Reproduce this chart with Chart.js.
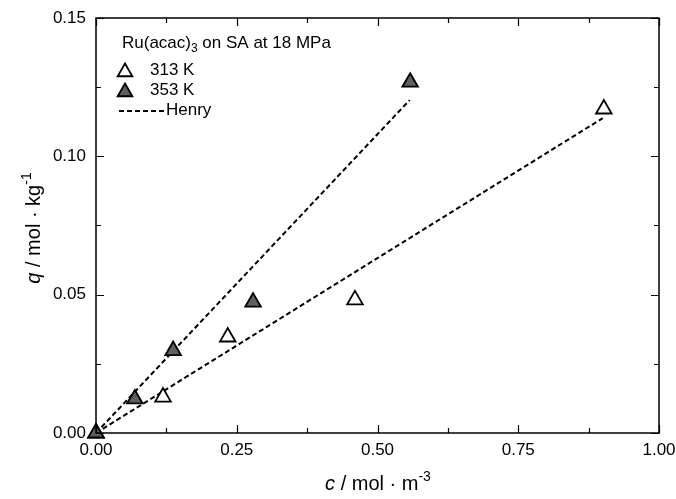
<!DOCTYPE html>
<html>
<head>
<meta charset="utf-8">
<script src="https://cdn.jsdelivr.net/npm/chart.js@4"></script>
<style>
  html, body { margin: 0; padding: 0; background: #fff; }
  #wrap { width: 676px; height: 499px; }
</style>
</head>
<body>
<div id="wrap"><canvas id="isotherm" width="676" height="499"></canvas></div>
<script>
// ── Data ──
const c313 = [0, 0.119, 0.234, 0.46, 0.902];
const q313 = [0, 0.013, 0.0347, 0.0481, 0.1171];
const c353 = [0, 0.069, 0.137, 0.279, 0.558];
const q353 = [0, 0.0123, 0.0298, 0.0473, 0.1268];
// Henry fits: start and end points
const henry313C = [0, 0.90];
const henry313Q = [0, 0.1138];
const henry353C = [0, 0.557];
const henry353Q = [0, 0.1203];

const xTicks = [0, 0.25, 0.5, 0.75, 1.0];
const yTicks = [0, 0.05, 0.10, 0.15];

const FONT = '"Liberation Sans", Arial, sans-serif';
const pts = (xs, ys) => xs.map((x, i) => ({ x: x, y: ys[i] }));

// ── Frame, inner ticks, axis titles and legend ──
const framePlugin = {
    id: 'frame',
    afterDraw(chart) {
        const ctx = chart.ctx;
        const a = chart.chartArea;
        const xs = chart.scales.x, ys = chart.scales.y;
        ctx.save();
        ctx.strokeStyle = '#000';
        ctx.lineWidth = 1.5;
        ctx.strokeRect(a.left, a.top, a.right - a.left, a.bottom - a.top);

        ctx.lineWidth = 1.2;
        ctx.beginPath();
        for (let i = 0; i <= 8; i++) {
            const v = i * 0.125;
            const len = i % 2 === 0 ? 8 : 5;
            const px = Math.round(xs.getPixelForValue(v)) + 0.5;
            ctx.moveTo(px, a.bottom); ctx.lineTo(px, a.bottom - len);
            ctx.moveTo(px, a.top); ctx.lineTo(px, a.top + len);
        }
        for (let i = 0; i <= 6; i++) {
            const v = i * 0.025;
            const len = i % 2 === 0 ? 8 : 5;
            const py = Math.round(ys.getPixelForValue(v)) + 0.5;
            ctx.moveTo(a.left, py); ctx.lineTo(a.left + len, py);
            ctx.moveTo(a.right, py); ctx.lineTo(a.right - len, py);
        }
        ctx.stroke();

        // axis titles
        ctx.fillStyle = '#000';
        ctx.textBaseline = 'alphabetic';
        const drawRuns = (runs, x, y, align) => {
            let w = 0;
            runs.forEach(r => { ctx.font = r.font; w += ctx.measureText(r.t).width; });
            let cx = align === 'center' ? x - w / 2 : x;
            ctx.textAlign = 'left';
            runs.forEach(r => {
                ctx.font = r.font;
                ctx.fillText(r.t, cx, y + (r.dy || 0));
                cx += ctx.measureText(r.t).width;
            });
        };
        drawRuns([
            { t: 'c', font: 'italic 20px ' + FONT },
            { t: ' / mol \u00b7 m', font: '20px ' + FONT },
            { t: '-3', font: '14px ' + FONT, dy: -9 }
        ], 378, 490, 'center');

        ctx.save();
        ctx.translate(40, 228);
        ctx.rotate(-Math.PI / 2);
        drawRuns([
            { t: 'q', font: 'italic 20px ' + FONT },
            { t: ' / mol \u00b7 kg', font: '20px ' + FONT },
            { t: '-1', font: '14px ' + FONT, dy: -9 }
        ], 0, 0, 'center');
        ctx.restore();

        // legend
        drawRuns([
            { t: 'Ru(acac)', font: '17px ' + FONT },
            { t: '3', font: '12px ' + FONT, dy: 4 },
            { t: ' on SA at 18 MPa', font: '17px ' + FONT }
        ], 122, 48, 'left');

        const tri = (x, y, r, fill) => {
            ctx.beginPath();
            for (let k = 0; k < 3; k++) {
                const ang = k * 2 * Math.PI / 3;
                const px = x + Math.sin(ang) * r, py = y - Math.cos(ang) * r;
                if (k === 0) ctx.moveTo(px, py); else ctx.lineTo(px, py);
            }
            ctx.closePath();
            ctx.fillStyle = fill;
            ctx.fill();
            ctx.lineWidth = 1.8;
            ctx.strokeStyle = '#000';
            ctx.stroke();
        };
        tri(125, 72, 8.5, '#fff');
        tri(125, 92, 8.5, '#5f5f5f');
        ctx.fillStyle = '#000';
        ctx.font = '17px ' + FONT;
        ctx.textBaseline = 'middle';
        ctx.fillText('313 K', 150, 70);
        ctx.fillText('353 K', 150, 90);
        ctx.fillText('Henry', 166, 110);
        ctx.setLineDash([5, 3]);
        ctx.lineWidth = 1.8;
        ctx.beginPath();
        ctx.moveTo(119, 111); ctx.lineTo(164, 111);
        ctx.stroke();
        ctx.restore();
    }
};

const ctx = document.getElementById('isotherm').getContext('2d');
new Chart(ctx, {
    type: 'scatter',
    data: {
        datasets: [
            {
                label: '313 K',
                data: pts(c313, q313),
                pointStyle: 'triangle',
                pointRadius: 9,
                pointBackgroundColor: '#fff',
                pointBorderColor: '#000',
                pointBorderWidth: 1.8,
                showLine: false,
                order: 1
            },
            {
                label: '353 K',
                data: pts(c353, q353),
                pointStyle: 'triangle',
                pointRadius: 9,
                pointBackgroundColor: '#5f5f5f',
                pointBorderColor: '#000',
                pointBorderWidth: 1.8,
                showLine: false,
                order: 0
            },
            {
                label: 'Henry 313 K',
                data: pts(henry313C, henry313Q),
                showLine: true,
                borderColor: '#000',
                borderWidth: 2,
                borderDash: [5, 3],
                pointRadius: 0,
                fill: false,
                order: 2
            },
            {
                label: 'Henry 353 K',
                data: pts(henry353C, henry353Q),
                showLine: true,
                borderColor: '#000',
                borderWidth: 2,
                borderDash: [5, 3],
                pointRadius: 0,
                fill: false,
                order: 2
            }
        ]
    },
    options: {
        responsive: false,
        animation: false,
        clip: false,
        layout: { padding: { left: 0, top: 18, right: 17, bottom: 0 } },
        plugins: {
            legend: { display: false },
            tooltip: { enabled: false }
        },
        scales: {
            x: {
                type: 'linear',
                min: 0, max: 1,
                afterBuildTicks: (s) => { s.ticks = xTicks.map(v => ({ value: v })); },
                afterFit: (s) => { s.height = 66; s.paddingRight = 0; s.paddingLeft = 0; },
                grid: { display: false, drawTicks: false },
                border: { display: false },
                ticks: {
                    padding: 7,
                    color: '#000',
                    font: { family: FONT, size: 17 },
                    callback: (v) => Number(v).toFixed(2)
                }
            },
            y: {
                type: 'linear',
                min: 0, max: 0.15,
                afterBuildTicks: (s) => { s.ticks = yTicks.map(v => ({ value: v })); },
                afterFit: (s) => { s.width = 96; s.paddingTop = 0; s.paddingBottom = 0; },
                grid: { display: false, drawTicks: false },
                border: { display: false },
                ticks: {
                    padding: 10,
                    color: '#000',
                    font: { family: FONT, size: 17 },
                    callback: (v) => Number(v).toFixed(2)
                }
            }
        }
    },
    plugins: [framePlugin]
});
</script>
</body>
</html>
